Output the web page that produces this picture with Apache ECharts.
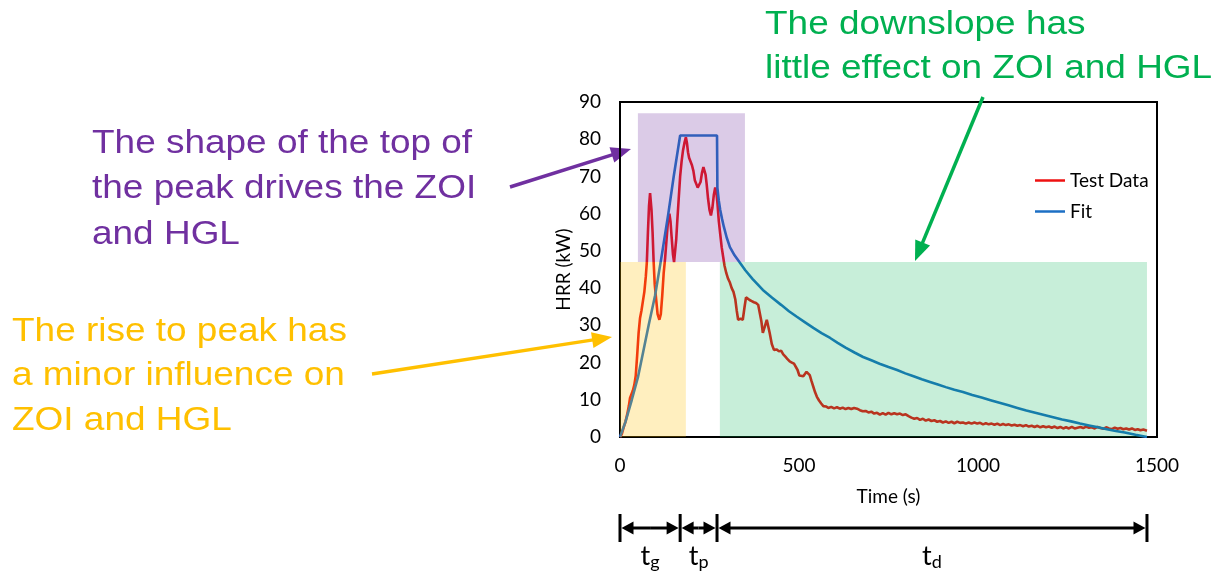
<!DOCTYPE html>
<html>
<head>
<meta charset="utf-8">
<script src="https://cdn.jsdelivr.net/npm/echarts@6/dist/echarts.min.js"></script>
<style>
  html, body { margin: 0; padding: 0; background: #fff; }
  #chart { width: 1214px; height: 575px; }
</style>
</head>
<body>
<div id="chart"></div>
<script>
// Heat release rate of the test (time in s, HRR in kW)
const testData = [
  [0,0],[5,0.8],[10,2.5],[15,4],[20,6],[25,8.5],[28,10.5],[32,11.5],[36,12.5],[40,14],
  [44,16.5],[48,22],[52,28],[56,32],[60,34],[64,36.5],[68,39],[72,43],[75,47],[78,55],
  [81,62],[84,65.5],[86,65],[88,61],[91,55],[94,47],[97,41],[101,37],[105,33],[110,31.5],
  [114,33],[118,38],[122,44],[126,48],[130,53],[134,58],[138,60],[141,58],[144,54],[148,49],
  [151,47],[154,47.5],[157,53],[160,58],[164,64],[168,70],[172,74],[176,77],[180,79],[184,80.5],
  [187,79],[190,76.5],[193,75],[197,74.5],[201,73],[205,71.5],[209,69],[213,68],[217,67],[221,67.5],
  [225,68.5],[229,71],[233,72.5],[236,72],[239,70.5],[242,68],[246,64],[250,61],[254,59.5],[258,61.5],
  [262,65],[266,67],[269,66],[272,63],[276,58],[280,54.5],[284,51],[288,48.5],[292,46],[297,44],
  [302,42.5],[307,41.5],[312,40],[317,39],[322,37],[326,34],[330,31.5],[337,31.8],[343,31.5],[348,35],
  [352,37.5],[357,37],[362,36.8],[368,36.5],[374,36.2],[380,36],[386,35.5],[391,35],[395,31],[399,28],
  [404,29.5],[410,31.5],[414,31],[418,28],[424,25],[430,23.4],[438,23.5],[444,23],[450,23.2],
  [456,22.2],[462,21.6],[468,20.9],[474,20.3],[480,20],[486,19.7],[491,19.2],[496,18],[501,16.5],[506,16.2],
  [512,16.3],[517,16.8],[521,17.5],[525,17.3],[530,16.6],[535,15],[540,13.5],[545,12],[550,10.8],[556,9.8],
  [562,9],[568,8.3],[575,8.2],[582,7.8],[590,8.1],[598,7.7],[606,8],[614,7.6],[622,7.9],[630,7.5],
  [638,7.8],[646,7.5],[654,7.8],[662,7.6],[670,7.2],[678,6.9],[686,7],[694,6.6],[702,6.8],[710,6.3],
  [718,6.5],[726,6],[734,6.4],[742,6],[750,6.5],[758,6.1],[766,6.4],[774,6.1],[782,6.3],[790,5.9],
  [798,6.1],[806,5.6],[814,5.2],[822,4.9],[830,5.1],[838,4.6],[846,4.9],[854,4.4],[862,4.7],[870,4.3],
  [878,4.5],[886,4.1],[894,4.3],[902,3.9],[910,4.2],[918,3.8],[926,4.1],[934,3.7],[942,4.1],[950,3.8],
  [958,3.9],[966,3.6],[974,3.9],[982,3.6],[990,3.9],[998,3.6],[1006,3.8],[1014,3.4],[1022,3.7],[1030,3.4],
  [1038,3.6],[1046,3.3],[1054,3.6],[1062,3.2],[1070,3.5],[1078,3.2],[1086,3.4],[1094,3.1],[1102,3.3],[1110,3.0],
  [1118,3.2],[1126,2.9],[1134,3.2],[1142,2.8],[1150,3.0],[1158,2.7],[1166,3.0],[1174,2.6],[1182,2.9],[1190,2.6],
  [1198,2.8],[1206,2.5],[1214,2.8],[1222,2.4],[1230,2.7],[1238,2.3],[1246,2.6],[1254,2.3],[1262,2.7],[1270,2.3],
  [1278,2.5],[1286,2.7],[1294,2.4],[1302,2.8],[1310,2.5],[1318,2.6],[1326,2.3],[1334,2.7],[1342,2.4],[1350,2.2],
  [1358,2.6],[1366,2.3],[1374,2.1],[1382,2.5],[1390,2.2],[1398,2.4],[1406,2.1],[1414,2.3],[1422,2.0],[1430,2.3],
  [1438,1.9],[1446,2.1],[1454,1.8],[1462,2.0],[1472,1.7]
];

// Fitted curve: growth, plateau, decay
const fitData = [
  [0,0],[15,4],[33,10],[50,16],[65,23],[80,30],[98,38],[117,49],[135,60],[150,70],[168,81],
  [271,81],[272,67],[276,63.5],[280,61],[285,58.6],[290,56.5],[298,53.6],[307,51],[320,48.8],[335,46.8],
  [350,44.8],[370,42.5],[399,39.5],[425,37.4],[450,35.5],[472,33.8],[494,32.3],[517,30.8],[540,29.3],
  [563,27.9],[587,26.6],[608,25.3],[630,24],[655,22.7],[679,21.5],[702,20.6],[725,19.7],[750,18.8],
  [774,18],[797,17.1],[820,16.3],[843,15.5],[866,14.8],[888,14.1],[910,13.4],[934,12.7],[958,12.1],
  [984,11.3],[1010,10.6],[1035,9.9],[1060,9.2],[1085,8.5],[1110,7.8],[1135,7.1],[1160,6.5],[1185,5.9],
  [1210,5.3],[1235,4.7],[1260,4.2],[1285,3.6],[1310,3.1],[1335,2.6],[1360,2.1],[1385,1.6],[1410,1.2],
  [1440,0.6],[1472,0]
];

// Phase boundaries of the fit (s): growth ends, plateau ends, decay ends
const phaseTimes = [0, 168, 271, 1472];
const phaseSubs = ['g', 'p', 'd'];

// Highlighted zones: [start time, end time, low HRR, high HRR]
const zoneNames = ['top', 'rise', 'downslope'];
const zoneStart = [50, 0, 279];
const zoneEnd = [349, 184, 1472];
const zoneLow = [47, 0, 0];
const zoneHigh = [87, 47, 47];
const zoneColors = ['rgba(112,48,160,0.25)', 'rgba(255,192,0,0.25)', 'rgba(0,176,80,0.22)'];

const xTicks = { min: 0, max: 1500, step: 500 };
const yTicks = { min: 0, max: 90, step: 10 };

const FONT = 'Lato, "Open Sans", sans-serif';
const NOTE_FONT = '"Liberation Sans", Arial, sans-serif';

const chart = echarts.init(document.getElementById('chart'), null, { renderer: 'canvas' });

const zoneData = zoneNames.map((n, i) => [zoneStart[i], zoneEnd[i], zoneLow[i], zoneHigh[i]]);

chart.setOption({
  animation: false,
  backgroundColor: '#fff',
  textStyle: { fontFamily: FONT },
  grid: {
    left: 620, right: 57, top: 102, bottom: 138,
    show: true, borderColor: '#000', borderWidth: 2, backgroundColor: 'transparent'
  },
  legend: {
    data: ['Test Data', 'Fit'],
    orient: 'vertical',
    left: 1030, top: 166,
    icon: 'rect', itemWidth: 30, itemHeight: 2.5, itemGap: 12,
    textStyle: { fontSize: 19, color: '#000', fontFamily: FONT }
  },
  xAxis: {
    type: 'value', min: xTicks.min, max: xTicks.max, interval: xTicks.step,
    name: 'Time (s)', nameLocation: 'middle', nameGap: 50,
    nameTextStyle: { fontSize: 19, color: '#000', fontFamily: FONT },
    axisLine: { show: true, lineStyle: { color: '#000', width: 2 } },
    axisTick: { show: false },
    splitLine: { show: false },
    axisLabel: { fontSize: 19, color: '#000', margin: 19, fontFamily: FONT, formatter: v => String(v) }
  },
  yAxis: {
    type: 'value', min: yTicks.min, max: yTicks.max, interval: yTicks.step,
    name: 'HRR (kW)', nameLocation: 'middle', nameGap: 47,
    nameTextStyle: { fontSize: 19, color: '#000', fontFamily: FONT },
    axisLine: { show: true, lineStyle: { color: '#000', width: 2 } },
    axisTick: { show: false },
    splitLine: { show: false },
    axisLabel: { fontSize: 19, color: '#000', margin: 19, fontFamily: FONT }
  },
  series: [
    {
      name: 'Test Data', type: 'line', data: testData, symbol: 'none', z: 2,
      lineStyle: { color: '#EE1111', width: 2.6 }, itemStyle: { color: '#EE1111' }
    },
    {
      name: 'Fit', type: 'line', data: fitData, symbol: 'none', z: 3,
      lineStyle: { color: '#1C6FC4', width: 2.6 }, itemStyle: { color: '#1C6FC4' }
    },
    {
      // translucent zones laid over the curves
      name: 'zones', type: 'custom', z: 6, silent: true,
      encode: { x: [0, 1], y: [2, 3] },
      data: zoneData,
      renderItem(params, api) {
        const a = api.coord([api.value(0), api.value(3)]);
        const b = api.coord([api.value(1), api.value(2)]);
        return {
          type: 'rect',
          shape: { x: a[0], y: a[1], width: b[0] - a[0], height: b[1] - a[1] },
          style: { fill: zoneColors[params.dataIndex] }
        };
      }
    }
  ]
});

// Arrow made of a shaft and a filled triangular head at (x1, y1)
function arrow(x0, y0, x1, y1, color, width, headLen, headW) {
  const dx = x1 - x0, dy = y1 - y0, L = Math.hypot(dx, dy);
  const ux = dx / L, uy = dy / L;
  const bx = x1 - ux * headLen, by = y1 - uy * headLen;
  const px = -uy * headW / 2, py = ux * headW / 2;
  return [
    { type: 'line', shape: { x1: x0, y1: y0, x2: bx + ux, y2: by + uy }, style: { stroke: color, lineWidth: width } },
    { type: 'polygon', shape: { points: [[x1, y1], [bx + px, by + py], [bx - px, by - py]] }, style: { fill: color } }
  ];
}

// Callout text, one element per line; y is the top of each line
function note(x, yFirst, gap, lines, color) {
  return lines.map((s, i) => ({
    type: 'text', x: x, y: yFirst + i * gap, scaleX: 1.12, originX: 0, originY: 0,
    style: { text: s, fill: color, font: '33px ' + NOTE_FONT, align: 'left', verticalAlign: 'top' }
  }));
}

const PURPLE = '#7030A0', GOLD = '#FFC000', GREEN = '#00B050';

const graphics = [];
graphics.push(...note(92, 127, 45.5, ['The shape of the top of', 'the peak drives the ZOI', 'and HGL'], PURPLE));
graphics.push(...note(12, 315, 44.5, ['The rise to peak has', 'a minor influence on', 'ZOI and HGL'], GOLD));
graphics.push(...note(765, 8, 44, ['The downslope has', 'little effect on ZOI and HGL'], GREEN));
graphics.push(...arrow(510, 187, 631, 149, PURPLE, 3.5, 20, 16));
graphics.push(...arrow(372, 374, 612, 337, GOLD, 3.5, 20, 16));
graphics.push(...arrow(983, 97, 915, 261, GREEN, 3.5, 20, 16));

// Phase timeline below the axis
const lineY = 528;
const px = phaseTimes.map(t => chart.convertToPixel({ xAxisIndex: 0 }, t));
px.forEach(x => {
  graphics.push({ type: 'line', shape: { x1: x, y1: 514, x2: x, y2: 542 }, style: { stroke: '#000', lineWidth: 3 } });
});
for (let i = 0; i < px.length - 1; i++) {
  const a = px[i] + 1.5, b = px[i + 1] - 1.5, m = (a + b) / 2;
  graphics.push(...arrow(m, lineY, a, lineY, '#000', 3, 12, 13));
  graphics.push(...arrow(m, lineY, b, lineY, '#000', 3, 12, 13));
  graphics.push({
    type: 'text', x: m, y: 556,
    style: {
      text: '{t|t}{s|' + phaseSubs[i] + '}',
      align: 'center', verticalAlign: 'middle',
      rich: {
        t: { fontSize: 27, fontFamily: FONT, fill: '#000', lineHeight: 28 },
        s: { fontSize: 18, fontFamily: FONT, fill: '#000', lineHeight: 28, padding: [12, 0, 0, 0] }
      }
    }
  });
}

chart.setOption({ graphic: graphics });
</script>
</body>
</html>
